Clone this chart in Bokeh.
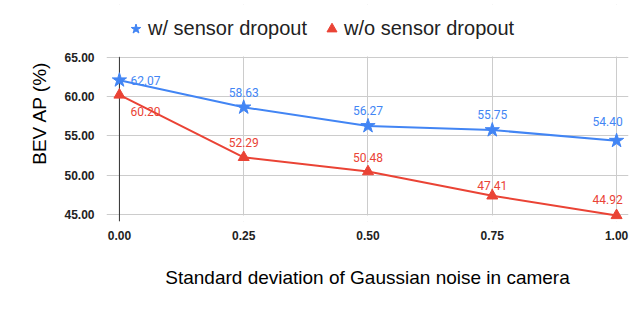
from bokeh.plotting import figure
from bokeh.models import (ColumnDataSource, Range1d, NumeralTickFormatter, FixedTicker,
                          Legend, LegendItem, BoxAnnotation)
from bokeh.core.properties import value
from bokeh.embed import file_html
from bokeh.resources import INLINE

# ---- data ----
noise_std = [0.00, 0.25, 0.50, 0.75, 1.00]
with_dropout = [62.07, 58.63, 56.27, 55.75, 54.40]
without_dropout = [60.20, 52.29, 50.48, 47.41, 44.92]
x_ticks = [0.00, 0.25, 0.50, 0.75, 1.00]
y_ticks = [45, 50, 55, 60, 65]
series_names = ["w/ sensor dropout", "w/o sensor dropout"]

BLUE = "#4285F4"
RED = "#EA4335"
FONT = "Liberation Sans"

# y range extends above the last tick (legend room) and a bit below the first tick
y_range = Range1d(44.15, 71.67)
p = figure(width=640, height=310, output_backend="svg", toolbar_location=None,
           x_range=Range1d(-0.026, 1.024), y_range=y_range,
           min_border_left=106, min_border_right=12, min_border_top=4, min_border_bottom=89)
p.outline_line_color = None
p.background_fill_color = "white"

# axes
for ax in (p.xaxis[0], p.yaxis[0]):
    ax.axis_line_color = None
    ax.major_tick_line_color = None
    ax.minor_tick_line_color = None
    ax.major_label_text_font = FONT
    ax.major_label_text_font_style = "bold"
    ax.major_label_text_font_size = "12px"
    ax.major_label_text_color = "#222222"
    ax.axis_label_text_font = FONT
    ax.axis_label_text_font_style = "normal"
    ax.axis_label_text_font_size = "19px"
    ax.axis_label_text_color = "#000000"
    ax.formatter = NumeralTickFormatter(format="0.00")

p.xaxis.ticker = FixedTicker(ticks=x_ticks)
p.yaxis.ticker = FixedTicker(ticks=y_ticks)
p.xaxis.axis_label = "Standard deviation of Gaussian noise in camera"
p.yaxis.axis_label = "BEV AP (%)"
p.xaxis.major_label_standoff = 3
p.yaxis.major_label_standoff = 6
p.xaxis.axis_label_standoff = 24
p.yaxis.axis_label_standoff = 11

p.xgrid.ticker = FixedTicker(ticks=x_ticks)
p.ygrid.ticker = FixedTicker(ticks=y_ticks)
p.grid.grid_line_color = "#cccccc"
p.grid.grid_line_width = 1

# white masks outside the tick span, hiding grid lines in the legend area and below
p.add_layout(BoxAnnotation(bottom=y_ticks[-1] + 0.08, fill_color="white", fill_alpha=1,
                           line_color=None, level="underlay"))
p.add_layout(BoxAnnotation(top=y_ticks[0] - 0.08, fill_color="white", fill_alpha=1,
                           line_color=None, level="underlay"))

# zero baseline (x = first tick), running slightly past the bottom grid line
p.segment(x0=[x_ticks[0]], y0=[y_range.start], x1=[x_ticks[0]], y1=[y_ticks[-1]],
          line_color="#333333", line_width=1)

# series
blue_src = ColumnDataSource(dict(
    x=noise_std, y=with_dropout, lbl=[f"{v:.2f}" for v in with_dropout],
    dx=[11, 0, 0, 0, -9], dy=[0, -15, -15, -16, -19],
    align=["left", "center", "center", "center", "center"]))
red_src = ColumnDataSource(dict(
    x=noise_std, y=without_dropout, lbl=[f"{v:.2f}" for v in without_dropout],
    dx=[11, 0, 0, 0, -9], dy=[17, -15, -14, -10, -16],
    align=["left", "center", "center", "center", "center"]))

p.line("x", "y", source=blue_src, line_color=BLUE, line_width=2)
p.line("x", "y", source=red_src, line_color=RED, line_width=2)
blue_pts = p.scatter("x", "y", source=blue_src, marker="star", size=15,
                     fill_color=BLUE, line_color=BLUE)
red_pts = p.scatter("x", "y", source=red_src, marker="triangle", size=11,
                    fill_color=RED, line_color=RED)

for src, col in ((blue_src, BLUE), (red_src, RED)):
    p.text("x", "y", text="lbl", source=src, x_offset="dx", y_offset="dy",
           text_align="align", text_baseline="middle",
           text_font=value("Roboto"), text_font_size="12px", text_color=col)

legend = Legend(items=[LegendItem(label=series_names[0], renderers=[blue_pts]),
                       LegendItem(label=series_names[1], renderers=[red_pts])],
                orientation="horizontal", location=(17, 180),
                glyph_width=25, glyph_height=25, label_standoff=0, spacing=12,
                padding=0, margin=0, border_line_color=None,
                label_text_font=FONT, label_text_font_size="20px",
                label_text_color="#222222", background_fill_alpha=0)
p.add_layout(legend)

open("out.html", "w").write(file_html(p, INLINE))
